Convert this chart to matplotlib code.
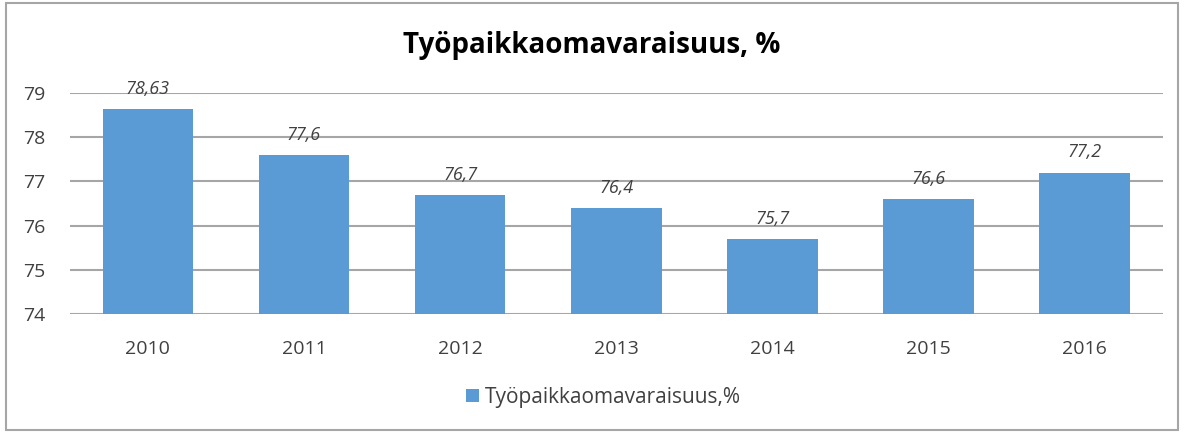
import matplotlib
matplotlib.use("Agg")
import matplotlib.pyplot as plt
from matplotlib.patches import Rectangle

# --- Data ---
years = ["2010", "2011", "2012", "2013", "2014", "2015", "2016"]
values = [78.63, 77.6, 76.7, 76.4, 75.7, 76.6, 77.2]
value_labels = ["78,63", "77,6", "76,7", "76,4", "75,7", "76,6", "77,2"]
y_ticks = [74, 75, 76, 77, 78, 79]

TITLE = "Työpaikkaomavaraisuus, %"
SERIES = "Työpaikkaomavaraisuus,%"
BAR_COLOR = "#5b9bd5"
GRID_COLOR = "#a6a6a6"
TEXT_COLOR = "#404040"

plt.rcParams["font.family"] = ["Open Sans", "DejaVu Sans"]

fig = plt.figure(figsize=(11.84, 4.32), dpi=100)
ax = fig.add_axes([0.059, 0.273, 0.923, 0.512])

x = range(len(years))
bars = ax.bar(x, values, width=0.58, color=BAR_COLOR, zorder=2,
              bottom=0, label=SERIES)

ax.set_ylim(74, 79)
ax.set_xlim(-0.5, len(years) - 0.5)
ax.set_yticks(y_ticks)
ax.set_xticks(list(x))
ax.set_xticklabels(years)
ax.tick_params(length=0, labelsize=14, colors=TEXT_COLOR)
ax.tick_params(axis="x", pad=19)
ax.tick_params(axis="y", pad=34)
for lbl in ax.get_yticklabels():
    lbl.set_horizontalalignment("left")

ax.yaxis.grid(True, color=GRID_COLOR, linewidth=1.5, zorder=0)
for s in ax.spines.values():
    s.set_visible(False)

# value labels above bars
for xi, v, lab in zip(x, values, value_labels):
    ax.annotate(lab, (xi, v), xytext=(0, 8), textcoords="offset points",
                ha="center", va="bottom", fontsize=13, style="italic",
                color=TEXT_COLOR, annotation_clip=False)

fig.text(0.5, 0.895, TITLE, ha="center", va="center", fontsize=20,
         fontweight="bold", color="black")

leg = fig.legend(handles=[bars], labels=[SERIES], loc="center",
                 bbox_to_anchor=(0.51, 0.08), frameon=False, fontsize=15,
                 handlelength=0.6, handleheight=0.6, handletextpad=0.3)
for t in leg.get_texts():
    t.set_color(TEXT_COLOR)

# outer chart border
fig.patches.append(Rectangle((0.005, 0.005), 0.99, 0.988, transform=fig.transFigure,
                             fill=False, edgecolor="#a6a6a6", linewidth=1.5))

fig.savefig("out.png", dpi=100)
